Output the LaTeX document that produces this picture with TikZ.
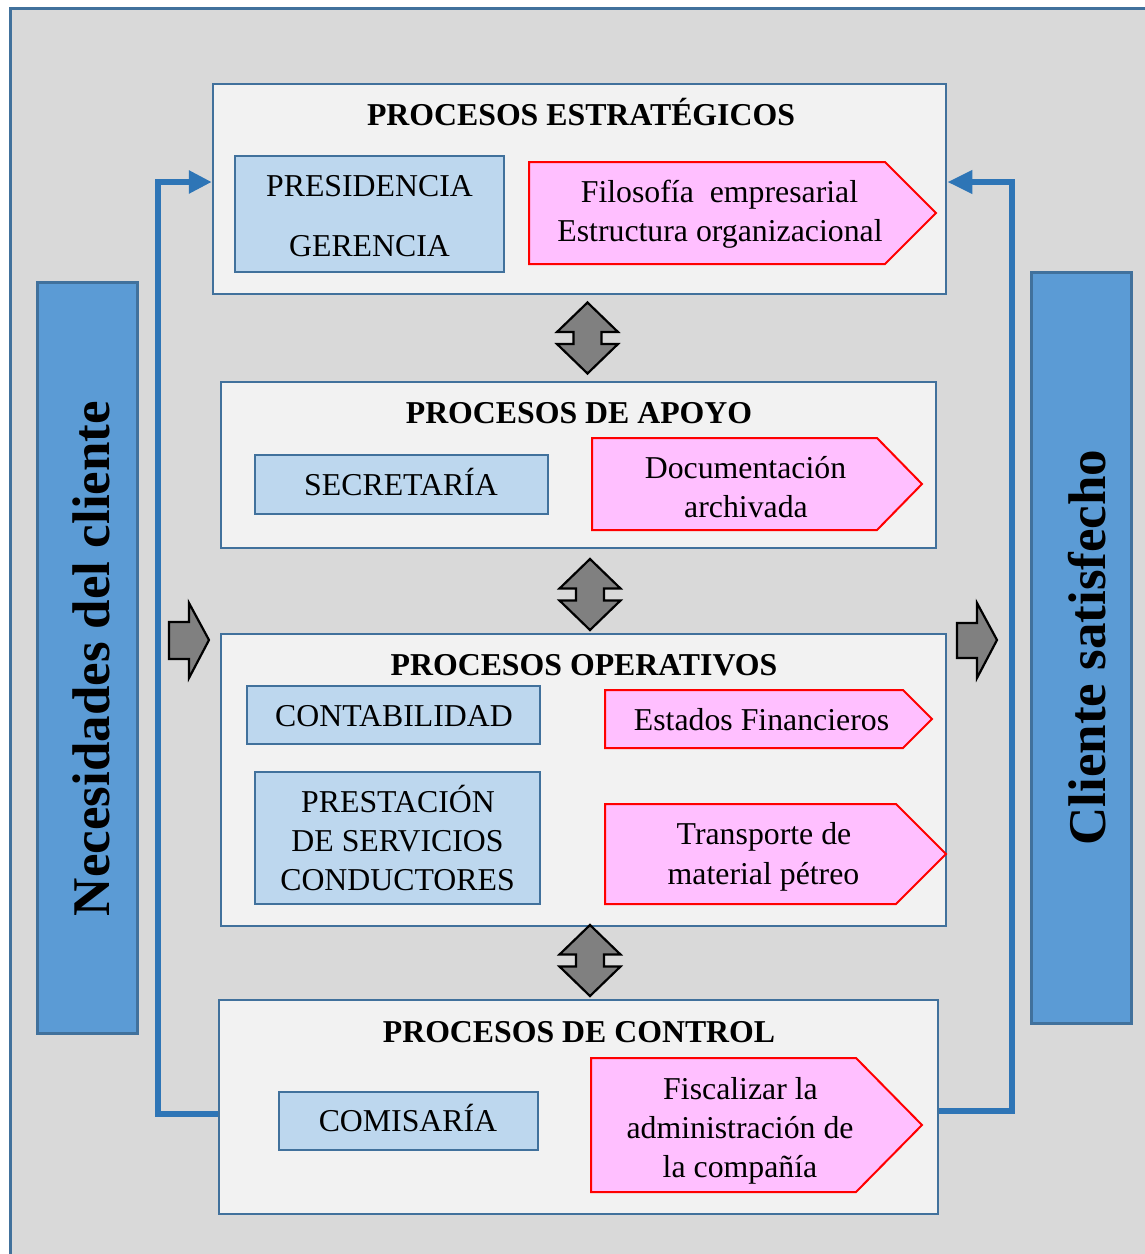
\documentclass[tikz,border=0pt]{standalone}
\usepackage{fontspec}
\setmainfont{Liberation Serif}
\usetikzlibrary{arrows.meta}
\definecolor{frameblue}{HTML}{41719C}
\definecolor{bggray}{HTML}{D9D9D9}
\definecolor{procfill}{HTML}{F2F2F2}
\definecolor{lightblue}{HTML}{BDD7EE}
\definecolor{midblue}{HTML}{5B9BD5}
\definecolor{pinkfill}{HTML}{FFBFFF}
\definecolor{connblue}{HTML}{2E75B6}
\definecolor{arrowgray}{HTML}{808080}
\begin{document}
\begin{tikzpicture}[x=1pt,y=-1pt,
 procbox/.style={draw=frameblue, line width=2.5pt, fill=procfill, inner sep=0pt},
 lbbox/.style={draw=frameblue, line width=2pt, fill=lightblue, inner sep=0pt},
 sidebox/.style={draw=frameblue, line width=3pt, fill=midblue, inner sep=0pt},
 pinkarrow/.style={draw=red, line width=2pt, fill=pinkfill, line join=miter},
 grayarrow/.style={draw=black, line width=2.2pt, fill=arrowgray, line join=miter},
 conn/.style={draw=connblue, line width=6.5pt, line join=miter},
 txt/.style={inner sep=0pt, font=\fontsize{31.8}{39}\selectfont, text height=21pt, text depth=0pt},
 headtxt/.style={inner sep=0pt, font=\fontsize{31.8}{39}\selectfont\bfseries, text height=21pt, text depth=0pt},
 sidetxt/.style={inner sep=0pt, font=\fontsize{53}{60}\selectfont\bfseries, text height=35pt, text depth=0pt, rotate=90},
 dblarrow/.pic={\draw[grayarrow] (0,-35.5) -- (30.5,-6) -- (14,-6) -- (14,6) -- (30.5,6) -- (0,35.5) -- (-30.5,6) -- (-14,6) -- (-14,-6) -- (-30.5,-6) -- cycle;}
]
\useasboundingbox (0,0) rectangle (1145,1254);
\clip (0,0) rectangle (1145,1254);
\fill[white] (0,0) rectangle (1145,1254);
\draw[draw=frameblue, line width=3pt, fill=bggray] (10,8.7) rectangle (1170,1280);

% side boxes
\node[sidebox, minimum width=100, minimum height=751] (lside) at (87,657.5) {};
\node[sidebox, minimum width=100, minimum height=751] (rside) at (1081,647.5) {};
\node[sidetxt] (ltxt) at (92,658.5) {Necesidades del cliente};
\node[sidetxt] (rtxt) at (1088,647.5) {Cliente satisfecho};

% process boxes
\node[procbox, minimum width=733, minimum height=210] (b1) at (579.5,189) {};
\node[procbox, minimum width=715, minimum height=166] (b2) at (578.5,465) {};
\node[procbox, minimum width=725, minimum height=292] (b3) at (583.5,780) {};
\node[procbox, minimum width=719, minimum height=214] (b4) at (578.5,1107) {};

% light blue boxes
\node[lbbox, minimum width=269, minimum height=116] (lb1) at (369.5,214) {};
\node[lbbox, minimum width=293, minimum height=59] (lb2) at (401.5,484.5) {};
\node[lbbox, minimum width=293, minimum height=58] (lb3) at (393.5,715) {};
\node[lbbox, minimum width=285, minimum height=132] (lb4) at (397.5,838) {};
\node[lbbox, minimum width=259, minimum height=58] (lb5) at (408.5,1121) {};

% pink arrows
\draw[pinkarrow] (529,162) -- (885,162) -- (936,213) -- (885,264) -- (529,264) -- cycle;
\draw[pinkarrow] (592,438) -- (877,438) -- (922,484) -- (877,530) -- (592,530) -- cycle;
\draw[pinkarrow] (605,690) -- (903,690) -- (932,719) -- (903,748) -- (605,748) -- cycle;
\draw[pinkarrow] (605,804) -- (896,804) -- (946,854) -- (896,904) -- (605,904) -- cycle;
\draw[pinkarrow] (591,1058) -- (856,1058) -- (922,1125) -- (856,1192) -- (591,1192) -- cycle;

% headings
\node[headtxt] (h1) at (581,115) {PROCESOS ESTRATÉGICOS};
\node[headtxt] (h2) at (579,413) {PROCESOS DE APOYO};
\node[headtxt] (h3) at (584,665) {PROCESOS OPERATIVOS};
\node[headtxt] (h4) at (579,1032) {PROCESOS DE CONTROL};

% box texts
\node[txt] (t1a) at (369.5,186) {PRESIDENCIA};
\node[txt] (t1b) at (369.5,246) {GERENCIA};
\node[txt] (t2) at (401,485) {SECRETARÍA};
\node[txt] (t3) at (394,716) {CONTABILIDAD};
\node[txt] (t4a) at (398,802) {PRESTACIÓN};
\node[txt] (t4b) at (397.5,841) {DE SERVICIOS};
\node[txt] (t4c) at (397.5,880) {CONDUCTORES};
\node[txt] (t5) at (408,1121) {COMISARÍA};

% pink texts
\node[txt] (p1a) at (719.5,192) {Filosofía\ \ empresarial};
\node[txt] (p1b) at (720,231) {Estructura organizacional};
\node[txt] (p2a) at (745.5,468) {Documentación};
\node[txt] (p2b) at (746,507) {archivada};
\node[txt] (p3) at (761.5,720) {Estados Financieros};
\node[txt] (p4a) at (764,834) {Transporte de};
\node[txt] (p4b) at (763.5,874) {material pétreo};
\node[txt] (p5a) at (740.5,1089) {Fiscalizar la};
\node[txt] (p5b) at (740,1128) {administración de};
\node[txt] (p5c) at (740,1167) {la compañía};

% double arrows
\pic at (587.5,338) {dblarrow};
\pic at (590,594.5) {dblarrow};
\pic at (590,960.5) {dblarrow};

% side gray arrows
\draw[grayarrow] (169,622) -- (189,622) -- (189,603) -- (209,640) -- (189,678) -- (189,659) -- (169,659) -- cycle;
\draw[grayarrow] (957,623) -- (977,623) -- (977,603) -- (997,640) -- (977,678) -- (977,658) -- (957,658) -- cycle;

% blue connectors
\coordinate (lc1) at (158,1114);
\coordinate (lc2) at (158,182);
\coordinate (rc1) at (1012,1111);
\coordinate (rc2) at (1012,182);
\draw[conn, -{Triangle[length=23pt,width=22pt]}] ([yshift=-7pt]b4.west) -- (lc1) -- (lc2) -- ([yshift=7pt]b1.west);
\draw[conn, -{Triangle[length=25pt,width=22pt]}] ([yshift=-4pt]b4.east) -- (rc1) -- (rc2) -- ([yshift=7pt]b1.east);
\end{tikzpicture}
\end{document}
